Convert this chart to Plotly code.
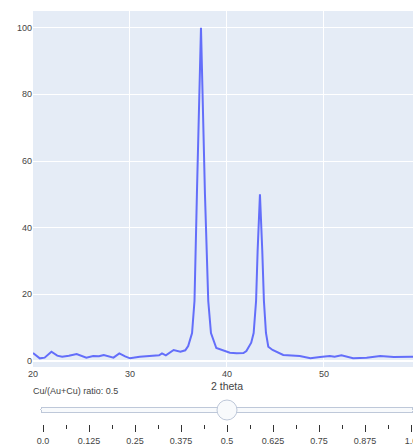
import plotly.graph_objects as go

two_theta = [20.0, 20.7, 21.2, 21.9, 22.5, 23.0, 23.7, 24.5, 25.5, 26.2, 26.8, 27.3,
             28.3, 28.9, 29.5, 30.0, 31.0, 32.0, 33.0, 33.3, 33.7, 34.5, 35.2, 35.7,
             36.0, 36.4, 36.65, 36.9, 37.1, 37.32, 37.5, 37.73, 38.07, 38.35, 38.9,
             39.6, 40.3, 41.0, 41.7, 42.0, 42.5, 42.75, 43.0, 43.16, 43.4, 43.64,
             43.81, 44.02, 44.26, 44.7, 45.3, 45.8, 47.5, 48.6, 49.6, 50.6, 51.1,
             51.8, 53.0, 54.4, 55.8, 57.2, 59.0, 60.0]
intensity = [2.4, 0.8, 1.0, 2.8, 1.6, 1.3, 1.6, 2.1, 1.0, 1.5, 1.4, 1.8,
             1.0, 2.3, 1.4, 0.8, 1.3, 1.5, 1.7, 2.3, 1.7, 3.3, 2.8, 3.2,
             4.5, 8.4, 18, 50, 78, 100, 78, 50, 18, 8.4, 3.9,
             3.3, 2.5, 2.3, 2.4, 3.0, 5.5, 8.4, 18, 33, 50, 33,
             18, 8.4, 4.3, 3.3, 2.6, 1.8, 1.5, 0.8, 1.2, 1.5, 1.3,
             1.7, 0.8, 1.0, 1.5, 1.2, 1.3, 1.2]

ratios = ["0.0", "0.0625", "0.125", "0.1875", "0.25", "0.3125", "0.375", "0.4375",
          "0.5", "0.5625", "0.625", "0.6875", "0.75", "0.8125", "0.875", "0.9375", "1.0"]
active_ratio = "0.5"

x_title = "2 theta"
slider_prefix = "Cu/(Au+Cu) ratio: "

FONT = "Arial, 'Liberation Sans', sans-serif"

fig = go.Figure(go.Scatter(x=two_theta, y=intensity, mode="lines",
                           line=dict(color="#636efa", width=2)))

steps = [dict(method="skip", args=[], label=r) for r in ratios]

fig.update_layout(
    template="plotly",
    width=413, height=445,
    margin=dict(l=33, r=0, t=11, b=78, autoexpand=False),
    font=dict(size=9, family=FONT, color="#444"),
    showlegend=False,
    xaxis=dict(range=[20, 59.18], tickvals=[20, 30, 40, 50], automargin=False),
    yaxis=dict(range=[-1.8, 105], tickvals=[0, 20, 40, 60, 80, 100], automargin=False),
    sliders=[dict(active=ratios.index(active_ratio), steps=steps,
                  x=0, len=1.021, y=0, yanchor="top", xanchor="left",
                  pad=dict(t=15, l=0, r=0, b=0),
                  font=dict(size=9, family=FONT, color="#444"),
                  currentvalue=dict(prefix=slider_prefix, offset=8,
                                    font=dict(size=9, family=FONT, color="#444")))],
    annotations=[dict(text=x_title, x=40, xref="x", y=0, yref="paper",
                      yanchor="top", yshift=-11, showarrow=False,
                      font=dict(size=10.5, family=FONT, color="#444"))],
)

fig.write_html("out.html", config={"displayModeBar": False},
               post_script="document.body.style.margin='0';document.body.style.overflow='hidden';")
